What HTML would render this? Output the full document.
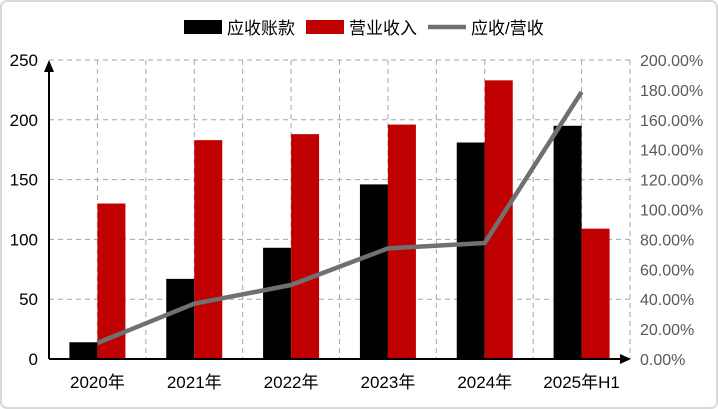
<!DOCTYPE html>
<html><head><meta charset="utf-8"><style>
html,body{margin:0;padding:0;background:#fff;}
svg{display:block;font-family:"Liberation Sans","Noto Sans CJK SC",sans-serif;}
</style></head><body>
<svg width="718" height="409" viewBox="0 0 718 409">
<rect x="1" y="1" width="716" height="407" rx="6" fill="#fff" stroke="#d9d9d9" stroke-width="2"/>
<g id="grid"></g><g id="bars"></g><g id="line"></g><g id="axes"></g><g id="legend"></g>
</svg>
<script>
const categories=["2020年","2021年","2022年","2023年","2024年","2025年H1"];
const receivables=[14,67,93,146,181,195];
const revenue=[130,183,188,196,233,109];
const ratio=[10.7,37,49.5,74,77.6,178.6];
const leftTicks=[0,50,100,150,200,250];
const rightTicks=[0,20,40,60,80,100,120,140,160,180,200];
const NS="http://www.w3.org/2000/svg";
const L=49,R=630,T=60,B=359,bw=28;
const cw=(R-L)/categories.length;
const yL=v=>B-(v/250)*(B-T);
const yR=v=>B-(v/200)*(B-T);
const cx=i=>L+cw*(i+0.5);
function mk(p,tag,a){const e=document.createElementNS(NS,tag);for(const k in a)e.setAttribute(k,a[k]);document.getElementById(p).appendChild(e);return e;}
const grid=document.getElementById('grid');
leftTicks.forEach(t=>{if(t>0){const l=mk('grid','line',{x1:L,x2:R,y1:yL(t),y2:yL(t),stroke:'#a6a6a6','stroke-dasharray':'5,4'});

}
const tx=mk('axes','text',{x:38,y:yL(t)+6,'text-anchor':'end','font-size':17,fill:'#000'});tx.textContent=t;

});
for(let k=1;k<=categories.length*2;k++){const x=L+k*cw/2;const l=mk('grid','line',{x1:x,x2:x,y1:T,y2:B,stroke:'#a6a6a6','stroke-dasharray':'5,4'});

}
rightTicks.forEach(t=>{const tx=mk('axes','text',{x:640,y:yR(t)+6,'font-size':16,fill:'#595959'});tx.textContent=t.toFixed(2)+'%';

});
categories.forEach((c,i)=>{
const b1=mk('bars','rect',{x:cx(i)-bw,y:yL(receivables[i]),width:bw,height:B-yL(receivables[i]),fill:'#000'});


const b2=mk('bars','rect',{x:cx(i),y:yL(revenue[i]),width:bw,height:B-yL(revenue[i]),fill:'#c00000'});


const tx=mk('axes','text',{x:cx(i),y:388,'text-anchor':'middle','font-size':17,fill:'#000'});tx.textContent=c;

});
const pl=mk('line','polyline',{points:ratio.map((v,i)=>cx(i)+','+yR(v)).join(' '),fill:'none',stroke:'#707070','stroke-width':4.5,'stroke-linejoin':'round'});


const ya=mk('axes','line',{x1:L,x2:L,y1:B,y2:T+10,stroke:'#000','stroke-width':2});


const ah=mk('axes','polygon',{points:`${L-5},${T+12} ${L+5},${T+12} ${L},${T}`,fill:'#000'});


const xa=mk('axes','line',{x1:L,x2:R-8,y1:B,y2:B,stroke:'#000','stroke-width':2});


const ah2=mk('axes','polygon',{points:`${R-10},${B-5} ${R-10},${B+5} ${R+1},${B}`,fill:'#000'});


const leg=[['应收账款','rect','#000',184],['营业收入','rect','#c00000',306],['应收/营收','line','#707070',428]];
leg.forEach(([n,t,c,x])=>{let m;
if(t==='rect')m=mk('legend','rect',{x:x,y:20,width:38,height:14,fill:c});
else m=mk('legend','line',{x1:x,x2:x+38,y1:27,y2:27,stroke:c,'stroke-width':4.5});


const tx=mk('legend','text',{x:x+43,y:34,'font-size':17,fill:'#000'});tx.textContent=n;

});
</script>
</body></html>
